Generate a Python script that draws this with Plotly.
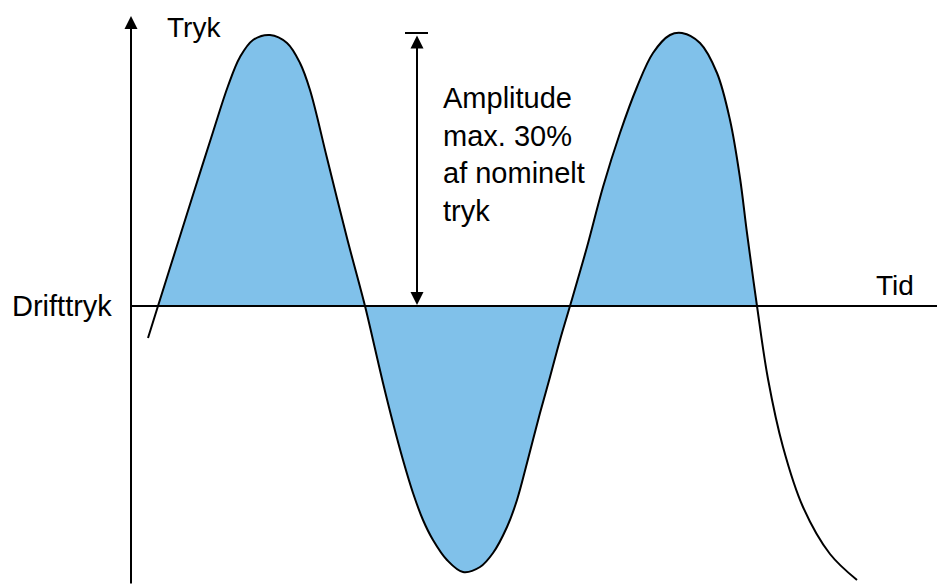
import plotly.graph_objects as go

# tid (vandret) og tryk relativt til drifttryk (lodret)
tid = [148, 158, 175, 192, 213, 228, 240, 253, 270, 287, 300, 310, 327, 347, 365,
       373, 383, 393, 403, 413, 423, 433, 447, 463, 480, 493, 507, 517, 527,
       540, 550, 560, 570,
       587, 603, 620, 637, 653, 670, 682, 700, 717, 730, 740, 747, 757,
       768, 783, 803, 830, 857]
tryk = [-32, 0, 54, 108, 174, 220, 249, 266, 271, 263, 243, 216, 148, 68, 0,
        -34, -77, -117, -154, -187, -214, -234, -254, -266, -261, -247, -221, -194, -157,
        -107, -71, -34, 0,
        59, 119, 173, 219, 253, 271, 273, 263, 233, 186, 128, 73, 0,
        -73, -141, -201, -248, -274]

amplitude_tekst = "Amplitude<br>max. 30%<br>af nominelt<br>tryk"

# fyldt område mellem første og sidste nulgennemgang
i0 = tryk.index(0)
i1 = len(tryk) - 1 - tryk[::-1].index(0)

FONT = "Liberation Sans, Arial, sans-serif"
BLUE = "#80c1ea"

fig = go.Figure()
fig.add_trace(go.Scatter(
    x=tid[i0:i1 + 1], y=tryk[i0:i1 + 1], mode="lines",
    line=dict(width=0, shape="spline", smoothing=1.0),
    fill="tozeroy", fillcolor=BLUE, hoverinfo="skip"))
fig.add_trace(go.Scatter(
    x=tid, y=tryk, mode="lines",
    line=dict(color="black", width=2, shape="spline", smoothing=1.0),
    hoverinfo="skip"))

# vandret akse (drifttryk) og top-streg for amplitude-pilen
fig.add_shape(type="line", x0=130, x1=937, y0=0, y1=0,
              line=dict(color="black", width=2), layer="above")
fig.add_shape(type="line", x0=405, x1=428, y0=273, y1=273,
              line=dict(color="black", width=2))

# lodret akse med pil
fig.add_annotation(x=131, y=290, ax=131, ay=-279, xref="x", yref="y",
                   axref="x", ayref="y", text="", showarrow=True,
                   arrowhead=2, arrowsize=1.3, arrowwidth=2, arrowcolor="black")
# amplitude-pil
fig.add_annotation(x=417, y=1, ax=417, ay=272, xref="x", yref="y",
                   axref="x", ayref="y", text="", showarrow=True,
                   arrowhead=2, startarrowhead=2, arrowside="end+start",
                   arrowsize=1.3, startarrowsize=1.3, arrowwidth=2,
                   arrowcolor="black")

txt = dict(family=FONT, size=29, color="black")
fig.add_annotation(x=165, y=279, text="Tryk", showarrow=False,
                   xanchor="left", yanchor="middle",
                   font=dict(family=FONT, size=28, color="black"))
fig.add_annotation(x=10, y=0, text="Drifttryk", showarrow=False,
                   xanchor="left", yanchor="middle", font=txt)
fig.add_annotation(x=916, y=21, text="Tid", showarrow=False,
                   xanchor="right", yanchor="middle",
                   font=dict(family=FONT, size=28, color="black"))
fig.add_annotation(x=441, y=226, text=amplitude_tekst, showarrow=False,
                   xanchor="left", yanchor="top", align="left", font=txt)

fig.update_xaxes(range=[0, 937], visible=False, fixedrange=True)
fig.update_yaxes(range=[-279, 306], visible=False, fixedrange=True)
fig.update_layout(width=937, height=585, margin=dict(l=0, r=0, t=0, b=0),
                  plot_bgcolor="white", paper_bgcolor="white",
                  showlegend=False)

fig.write_html("out.html", config={"displayModeBar": False},
               post_script="document.body.style.margin='0';")
